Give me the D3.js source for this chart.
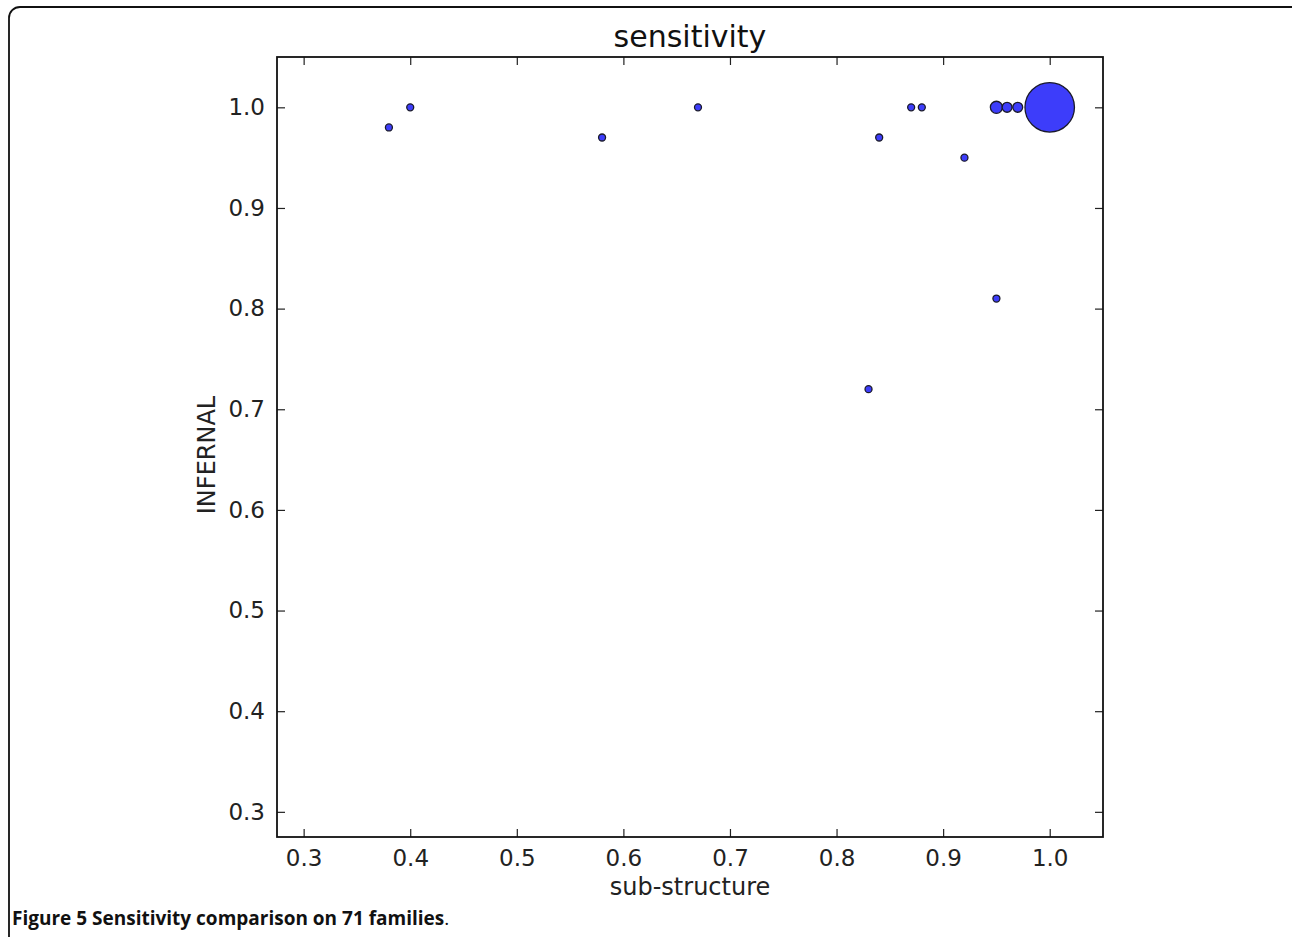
<!DOCTYPE html>
<html><head><meta charset="utf-8">
<script src="https://cdn.jsdelivr.net/npm/d3@7"></script>
<style>body{margin:0;background:#fff}svg{display:block}</style>
</head><body>
<script>
const subStructure = [0.38, 0.40, 0.58, 0.67, 0.84, 0.87, 0.88, 0.92, 0.95, 0.83, 0.95, 0.96, 0.97, 1.00];
const infernal     = [0.98, 1.00, 0.97, 1.00, 0.97, 1.00, 1.00, 0.95, 0.81, 0.72, 1.00, 1.00, 1.00, 1.00];
const families     = [1, 1, 1, 1, 1, 1, 1, 1, 1, 1, 3, 2, 2, 50];
const xTicks = [0.3, 0.4, 0.5, 0.6, 0.7, 0.8, 0.9, 1.0];
const yTicks = [0.3, 0.4, 0.5, 0.6, 0.7, 0.8, 0.9, 1.0];

const W = 1292, H = 937;
const svg = d3.select("body").append("svg").attr("width", W).attr("height", H);

// outer rounded frame
svg.append("rect").attr("x", 9).attr("y", 7).attr("width", 1300).attr("height", 1000)
  .attr("rx", 11).attr("fill", "none").attr("stroke", "#111").attr("stroke-width", 1.8);

const L = 277, R = 1103, T = 57, B = 837;
const x = d3.scaleLinear().domain([0.275, 1.05]).range([L, R]);
const y = d3.scaleLinear().domain([0.275, 1.05]).range([B, T]);
const r = d3.scaleSqrt().domain([0, 1]).range([0, 3.5]);

const font = "DejaVu Sans, sans-serif";
const tickLen = 8;

const axB = d3.axisBottom(x).tickValues(xTicks).tickSize(-tickLen).tickPadding(13).tickFormat(d3.format(".1f"));
const axT = d3.axisTop(x).tickValues(xTicks).tickSize(-tickLen).tickFormat("");
const axL = d3.axisLeft(y).tickValues(yTicks).tickSize(-tickLen).tickPadding(12).tickFormat(d3.format(".1f"));
const axR = d3.axisRight(y).tickValues(yTicks).tickSize(-tickLen).tickFormat("");

function style(g){
  g.select(".domain").remove();
  g.selectAll(".tick line").attr("stroke", "#222").attr("stroke-width", 1.2);
  g.selectAll(".tick text").attr("font-family", font).attr("font-size", 23).attr("fill", "#222");
}
svg.append("g").attr("transform", `translate(0,${B})`).call(axB).call(style);
svg.append("g").attr("transform", `translate(0,${T})`).call(axT).call(style);
svg.append("g").attr("transform", `translate(${L},0)`).call(axL).call(style);
svg.append("g").attr("transform", `translate(${R},0)`).call(axR).call(style);

svg.append("rect").attr("x", L).attr("y", T).attr("width", R - L).attr("height", B - T)
  .attr("fill", "none").attr("stroke", "#111").attr("stroke-width", 1.8);

const pts = subStructure.map((v, i) => ({x: v, y: infernal[i], n: families[i]}));
svg.append("g").selectAll("circle").data(pts).join("circle")
  .attr("cx", d => x(d.x)).attr("cy", d => y(d.y)).attr("r", d => r(d.n))
  .attr("fill", "#3d3dfa").attr("stroke", "#1a1a2a").attr("stroke-width", 1.3);

svg.append("text").attr("x", (L + R) / 2).attr("y", 47).attr("text-anchor", "middle")
  .attr("font-family", font).attr("font-size", 30).attr("fill", "#111").text("sensitivity");
svg.append("text").attr("x", (L + R) / 2).attr("y", 895).attr("text-anchor", "middle")
  .attr("font-family", font).attr("font-size", 24).attr("fill", "#222").text("sub-structure");
svg.append("text").attr("transform", `translate(215,${(T + B) / 2 + 8}) rotate(-90)`).attr("text-anchor", "middle")
  .attr("font-family", font).attr("font-size", 24).attr("fill", "#222").text("INFERNAL");

const cap = svg.append("text").attr("x", 12).attr("y", 925).attr("font-family", "Open Sans, sans-serif")
  .attr("font-size", 19).attr("fill", "#111");
cap.append("tspan").attr("font-weight", "bold").text("Figure 5 Sensitivity comparison on 71 families");
cap.append("tspan").text(".");
</script>
</body></html>
